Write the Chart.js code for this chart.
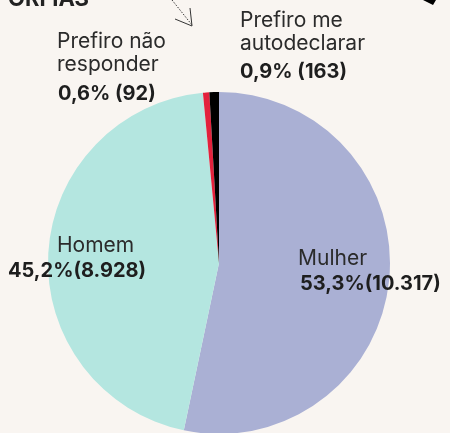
<!DOCTYPE html>
<html>
<head>
<meta charset="utf-8">
<script src="https://cdn.jsdelivr.net/npm/chart.js@4"></script>
<style>
  html, body { margin: 0; padding: 0; background: #f9f5f1; }
  canvas { display: block; }
</style>
</head>
<body>
<canvas id="chartGenero" width="450" height="433"></canvas>
<script>
const categorias = ['Mulher', 'Homem', 'Prefiro não responder', 'Prefiro me autodeclarar'];
const percentuais = [53.3, 45.2, 0.6, 0.9];
const totais = ['10.317', '8.928', '92', '163'];
const cores = ['#aab0d4', '#b4e6e0', '#e3213c', '#000000'];

const fmt = (p) => p.toString().replace('.', ',') + '%';

// rótulos soltos, posicionados à mão como na arte original
const rotulos = [
    { linhas: ['Mulher'], valor: fmt(percentuais[0]) + '(' + totais[0] + ')', x: 298, y: 265, vx: 300, vy: 290 },
    { linhas: ['Homem'], valor: fmt(percentuais[1]) + '(' + totais[1] + ')', x: 57, y: 252, vx: 8, vy: 277 },
    { linhas: ['Prefiro não', 'responder'], valor: fmt(percentuais[2]) + ' (' + totais[2] + ')', x: 57, y: 48, vx: 58, vy: 100 },
    { linhas: ['Prefiro me', 'autodeclarar'], valor: fmt(percentuais[3]) + ' (' + totais[3] + ')', x: 240, y: 27, vx: 240, vy: 78 }
];

const rotulosPlugin = {
    id: 'rotulos',
    beforeDraw(chart) {
        const ctx = chart.ctx;
        ctx.save();
        // sobras do layout original (título cortado, seta)
        ctx.fillStyle = '#222';
        ctx.font = 'bold 22px Inter';
        ctx.textBaseline = 'alphabetic';
        ctx.fillText('ORFIAS', 8, 6);

        ctx.strokeStyle = '#333';
        ctx.lineWidth = 1;
        ctx.setLineDash([1.5, 1.5]);
        ctx.beginPath();
        ctx.moveTo(172, 0);
        ctx.lineTo(192, 25);
        ctx.stroke();
        ctx.setLineDash([]);
        ctx.beginPath();
        ctx.moveTo(175, 19);
        ctx.lineTo(192, 26);
        ctx.lineTo(190, 8);
        ctx.stroke();

        ctx.fillStyle = '#000';
        ctx.beginPath();
        ctx.moveTo(423, 0);
        ctx.lineTo(436, 0);
        ctx.lineTo(433, 5);
        ctx.closePath();
        ctx.fill();
        ctx.restore();
    },
    afterDraw(chart) {
        const ctx = chart.ctx;
        ctx.save();
        ctx.textBaseline = 'alphabetic';
        rotulos.forEach(r => {
            ctx.fillStyle = '#2b2b2b';
            ctx.font = '21px Inter';
            r.linhas.forEach((l, i) => ctx.fillText(l, r.x, r.y + i * 23));
            ctx.fillStyle = '#1e1e1e';
            ctx.font = 'bold 20px Inter';
            ctx.fillText(r.valor, r.vx, r.vy);
        });
        ctx.restore();
    }
};

new Chart(document.getElementById('chartGenero'), {
    type: 'pie',
    data: {
        labels: categorias,
        datasets: [{
            data: percentuais,
            backgroundColor: cores,
            borderWidth: 0,
            radius: 171
        }]
    },
    options: {
        responsive: false,
        animation: false,
        layout: {
            padding: { top: 93, bottom: 0, left: 0, right: 12 }
        },
        plugins: {
            legend: { display: false },
            tooltip: { enabled: false }
        }
    },
    plugins: [rotulosPlugin]
});
</script>
</body>
</html>
